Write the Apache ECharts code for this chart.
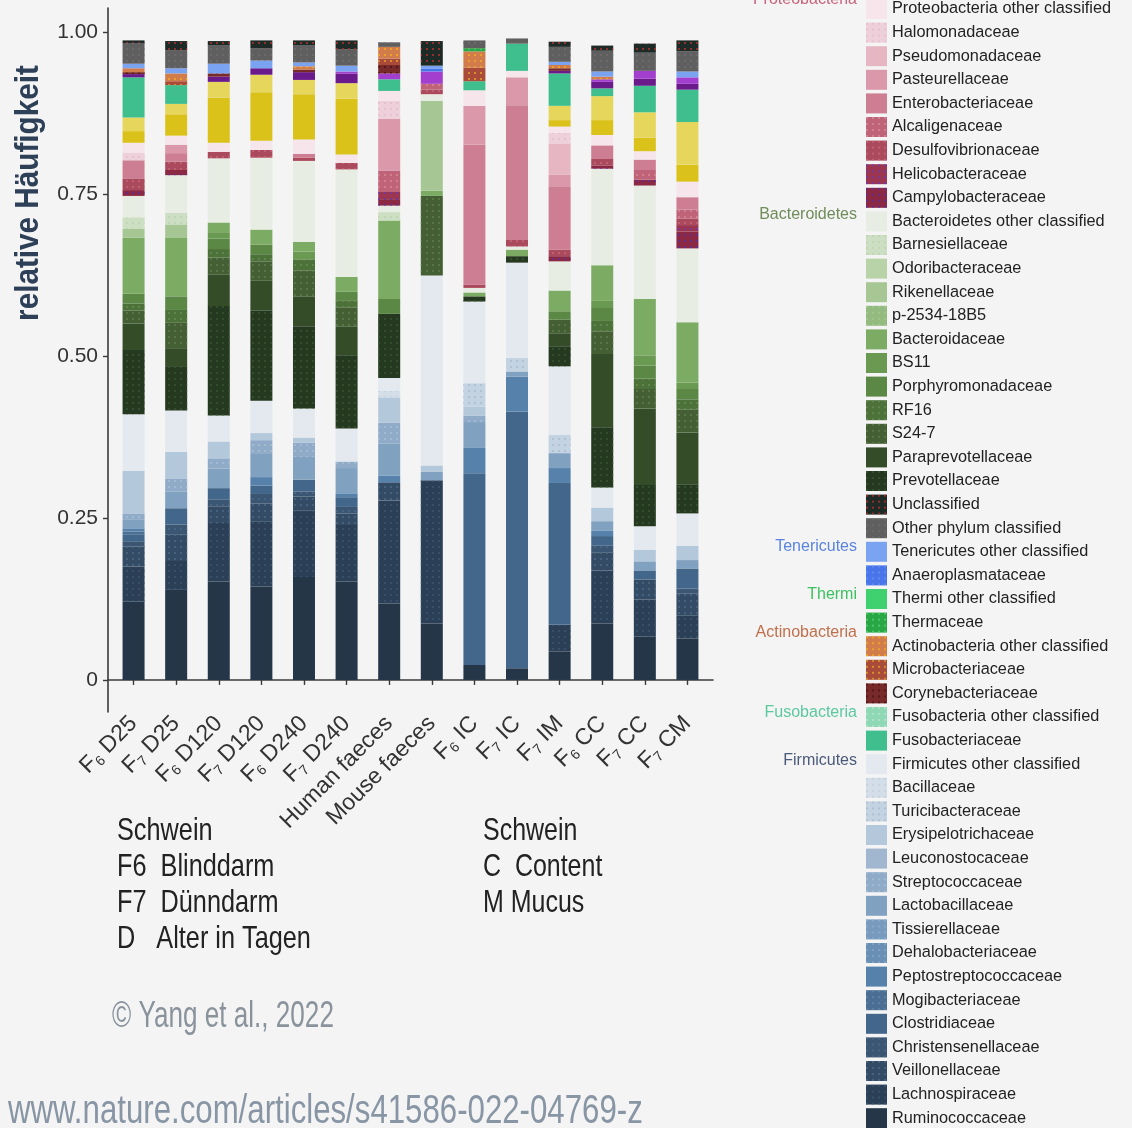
<!DOCTYPE html>
<html>
<head>
<meta charset="utf-8">
<title>Relative Häufigkeit der Bakterienfamilien</title>
<script src="https://cdn.jsdelivr.net/npm/echarts@6/dist/echarts.min.js"></script>
<style>
  html, body { margin: 0; padding: 0; background: #f4f4f4; }
  #chart { width: 1132px; height: 1128px; }
</style>
</head>
<body>
<div id="chart"></div>
<script>
// Samples (x axis), with the F index drawn as a subscript
const sampleLabels = [
  '{m|F}{s|6}{m| D25}', '{m|F}{s|7}{m| D25}', '{m|F}{s|6}{m| D120}', '{m|F}{s|7}{m| D120}',
  '{m|F}{s|6}{m| D240}', '{m|F}{s|7}{m| D240}', '{m|Human faeces}', '{m|Mouse faeces}',
  '{m|F}{s|6}{m| IC}', '{m|F}{s|7}{m| IC}', '{m|F}{s|7}{m| IM}', '{m|F}{s|6}{m| CC}',
  '{m|F}{s|7}{m| CC}', '{m|F}{s|7}{m| CM}'
];
const yTicks = [0, 0.25, 0.5, 0.75, 1];

// Relative abundance per family, one value per sample (same order as sampleLabels)
// Firmicutes
const ruminococcaceae       = [0.121, 0.139, 0.152, 0.144, 0.159, 0.152, 0.118, 0.087, 0.023, 0.018, 0.044, 0.087, 0.067, 0.064];
const lachnospiraceae       = [0.054, 0.046, 0.090, 0.100, 0.103, 0.087, 0.159, 0.221, 0, 0, 0.041, 0.082, 0.057, 0.035];
const veillonellaceae       = [0.031, 0.039, 0.026, 0.028, 0.021, 0.018, 0.028, 0, 0, 0, 0, 0.028, 0.031, 0.034];
const christensenellaceae   = [0.008, 0.016, 0.010, 0.015, 0.008, 0.010, 0, 0, 0, 0, 0, 0.010, 0, 0.008];
const clostridiaceae        = [0.010, 0.025, 0.018, 0.013, 0.018, 0.015, 0, 0, 0.296, 0.396, 0.219, 0.015, 0.014, 0.031];
const mogibacteriaceae      = [0.005, 0, 0, 0, 0, 0, 0, 0, 0, 0, 0, 0, 0, 0];
const peptostreptococcaceae = [0.005, 0, 0, 0.013, 0, 0.006, 0.010, 0, 0.039, 0.054, 0.023, 0.008, 0, 0];
const dehalobacteriaceae    = [0, 0, 0, 0, 0, 0, 0, 0, 0, 0, 0, 0, 0, 0];
const tissierellaceae       = [0, 0, 0, 0, 0, 0, 0, 0, 0, 0, 0, 0, 0, 0];
const lactobacillaceae      = [0.013, 0.026, 0.030, 0.037, 0.035, 0.039, 0.050, 0.013, 0.040, 0.008, 0.023, 0.015, 0.014, 0.013];
const streptococcaceae      = [0.010, 0.020, 0.016, 0.020, 0.022, 0.010, 0.032, 0, 0.010, 0, 0, 0, 0, 0];
const leuconostocaceae      = [0, 0, 0, 0, 0, 0, 0, 0, 0, 0, 0, 0, 0, 0];
const erysipelotrichaceae   = [0.066, 0.041, 0.026, 0.011, 0.008, 0, 0.039, 0.010, 0.014, 0, 0, 0.021, 0.018, 0.022];
const turicibacteraceae     = [0, 0, 0, 0, 0, 0, 0, 0, 0.036, 0.021, 0.028, 0, 0, 0];
const bacillaceae           = [0, 0, 0, 0, 0, 0, 0.010, 0, 0, 0, 0, 0, 0, 0];
const firmicutesOther       = [0.087, 0.064, 0.040, 0.050, 0.045, 0.051, 0.020, 0.293, 0.126, 0.147, 0.106, 0.031, 0.036, 0.050];
// Bacteroidetes
const prevotellaceae        = [0.099, 0.067, 0.169, 0.139, 0.127, 0.113, 0.099, 0, 0.008, 0.010, 0.031, 0.093, 0.064, 0.045];
const paraprevotellaceae    = [0.041, 0.029, 0.049, 0.046, 0.046, 0.044, 0, 0, 0, 0, 0.020, 0.113, 0.118, 0.080];
const s247                  = [0.020, 0.040, 0.026, 0.030, 0.040, 0.030, 0, 0.123, 0, 0, 0.021, 0.035, 0.030, 0.035];
const rf16                  = [0.011, 0.019, 0.013, 0.011, 0.017, 0.011, 0, 0, 0, 0, 0, 0.016, 0.016, 0.016];
const porphyromonadaceae    = [0.015, 0.021, 0.016, 0.015, 0, 0.013, 0.023, 0, 0, 0, 0.013, 0.020, 0.020, 0.016];
const bs11                  = [0, 0, 0.010, 0, 0.012, 0, 0, 0, 0, 0, 0, 0.011, 0.016, 0.010];
const bacteroidaceae        = [0.087, 0.090, 0.015, 0.023, 0.015, 0.023, 0.121, 0.008, 0.006, 0.010, 0.032, 0.055, 0.087, 0.093];
const p253418B5             = [0, 0, 0, 0, 0, 0, 0, 0, 0, 0, 0, 0, 0, 0];
const rikenellaceae         = [0.013, 0.021, 0, 0, 0, 0, 0, 0.139, 0, 0, 0, 0, 0, 0];
const odoribacteraceae      = [0, 0, 0, 0, 0, 0, 0, 0, 0, 0, 0, 0, 0, 0];
const barnesiellaceae       = [0.018, 0.018, 0, 0, 0, 0, 0.013, 0, 0, 0, 0, 0, 0, 0];
const bacteroidetesOther    = [0.033, 0.058, 0.099, 0.111, 0.125, 0.166, 0.010, 0.010, 0.007, 0.005, 0.045, 0.149, 0.175, 0.114];
// Proteobacteria
const campylobacteraceae    = [0.009, 0.008, 0, 0, 0, 0, 0.010, 0, 0, 0, 0.008, 0.005, 0.009, 0.026];
const helicobacteraceae     = [0, 0, 0, 0, 0, 0, 0.011, 0, 0, 0, 0, 0, 0, 0.010];
const desulfovibrionaceae   = [0.018, 0.013, 0.010, 0.012, 0.005, 0.010, 0, 0.007, 0.005, 0.010, 0.010, 0.010, 0, 0.010];
const alcaligenaceae        = [0, 0, 0, 0, 0, 0, 0.033, 0.009, 0, 0, 0, 0, 0.015, 0.014];
const enterobacteriaceae    = [0.028, 0.013, 0, 0, 0.006, 0, 0, 0, 0.216, 0.208, 0.098, 0.021, 0.016, 0.019];
const pasteurellaceae       = [0, 0.013, 0, 0, 0, 0, 0.080, 0, 0.060, 0.043, 0.018, 0, 0, 0];
const pseudomonadaceae      = [0, 0, 0, 0, 0, 0, 0, 0, 0, 0, 0.048, 0, 0, 0];
const halomonadaceae        = [0.012, 0, 0, 0, 0, 0, 0.028, 0, 0, 0, 0.016, 0, 0, 0];
const proteobacteriaOther   = [0.015, 0.014, 0.014, 0.014, 0.022, 0.013, 0.015, 0, 0.024, 0.010, 0.010, 0.016, 0.013, 0.024];
// Spirochaetes
const spirochaetaceae       = [0.018, 0.033, 0.070, 0.075, 0.070, 0.086, 0, 0, 0, 0, 0.010, 0.023, 0.021, 0.026];
const spirochaetesOther     = [0.021, 0.016, 0.024, 0.027, 0.022, 0.024, 0, 0, 0, 0, 0.022, 0.037, 0.039, 0.066];
// Fusobacteria
const fusobacteriaceae      = [0.062, 0.029, 0, 0, 0, 0, 0.018, 0, 0.014, 0.042, 0.050, 0.012, 0.041, 0.050];
const fusobacteriaOther     = [0, 0, 0, 0, 0, 0, 0, 0, 0, 0, 0, 0, 0, 0];
// Verrucomicrobia
const verrucomicrobiaceae   = [0.005, 0, 0.008, 0.010, 0.012, 0.015, 0, 0, 0, 0, 0.004, 0.010, 0.011, 0.009];
const verrucomicrobiaOther  = [0, 0, 0, 0, 0, 0.003, 0.009, 0.019, 0, 0, 0, 0.004, 0.012, 0.010];
// Actinobacteria
const corynebacteriaceae    = [0.003, 0, 0.005, 0, 0.004, 0, 0.013, 0, 0, 0, 0.004, 0, 0, 0];
const microbacteriaceae     = [0, 0.006, 0, 0, 0, 0, 0.010, 0, 0.021, 0, 0, 0, 0, 0];
const actinobacteriaOther   = [0.006, 0.012, 0, 0, 0.005, 0, 0.018, 0, 0.025, 0, 0.005, 0.004, 0, 0];
// Thermi
const thermaceae            = [0, 0, 0, 0, 0, 0, 0, 0, 0.005, 0, 0, 0, 0, 0];
const thermiOther           = [0, 0, 0, 0, 0, 0, 0, 0, 0, 0, 0, 0, 0, 0];
// Tenericutes
const anaeroplasmataceae    = [0, 0, 0, 0, 0, 0, 0, 0.004, 0, 0, 0, 0, 0, 0];
const tenericutesOther      = [0.007, 0.008, 0.015, 0.012, 0.006, 0.009, 0, 0.005, 0, 0, 0.005, 0.008, 0, 0.009];
// Remaining reads
const otherPhylum           = [0.032, 0.028, 0.028, 0.019, 0.026, 0.025, 0.007, 0, 0.012, 0.008, 0.023, 0.032, 0.028, 0.031];
const unclassified          = [0.004, 0.014, 0.007, 0.012, 0.008, 0.014, 0, 0.038, 0, 0, 0.008, 0.008, 0.014, 0.017];

// Stack order, bottom to top: [name, fill colour, values, dot colour of the texture or null]
const stackOrder = [
  ['Ruminococcaceae', '#243647', ruminococcaceae, null],
  ['Lachnospiraceae', '#2b4056', lachnospiraceae, '#3d566e'],
  ['Veillonellaceae', '#334b64', veillonellaceae, '#4f6a86'],
  ['Christensenellaceae', '#3b5672', christensenellaceae, '#4e6a88'],
  ['Clostridiaceae', '#43678a', clostridiaceae, null],
  ['Mogibacteriaceae', '#4a6f93', mogibacteriaceae, '#6486a8'],
  ['Peptostreptococcaceae', '#5581ab', peptostreptococcaceae, null],
  ['Dehalobacteriaceae', '#6a8fb5', dehalobacteriaceae, '#86a6c6'],
  ['Tissierellaceae', '#789bbd', tissierellaceae, '#90aecb'],
  ['Lactobacillaceae', '#81a1c0', lactobacillaceae, null],
  ['Streptococcaceae', '#8fabc8', streptococcaceae, '#a6bfd6'],
  ['Leuconostocaceae', '#a0b7cf', leuconostocaceae, null],
  ['Erysipelotrichaceae', '#b4c8db', erysipelotrichaceae, null],
  ['Turicibacteraceae', '#c4d3e1', turicibacteraceae, '#a9bccf'],
  ['Bacillaceae', '#d4dee8', bacillaceae, '#c2cfdc'],
  ['Firmicutes other classified', '#e3e9ee', firmicutesOther, null],
  ['Prevotellaceae', '#253920', prevotellaceae, '#3a5432'],
  ['Paraprevotellaceae', '#344c28', paraprevotellaceae, null],
  ['S24-7', '#435f33', s247, '#5e7d4c'],
  ['RF16', '#4c7139', rf16, '#688c55'],
  ['Porphyromonadaceae', '#5c8846', porphyromonadaceae, null],
  ['BS11', '#6a9a52', bs11, null],
  ['Bacteroidaceae', '#7cab63', bacteroidaceae, null],
  ['p-2534-18B5', '#93bb7f', p253418B5, '#a9c996'],
  ['Rikenellaceae', '#a6c794', rikenellaceae, null],
  ['Odoribacteraceae', '#b8d3a8', odoribacteraceae, null],
  ['Barnesiellaceae', '#cddfc2', barnesiellaceae, '#bdd3ae'],
  ['Bacteroidetes other classified', '#e8ede4', bacteroidetesOther, null],
  ['Campylobacteraceae', '#8b2843', campylobacteraceae, '#5b2f9c'],
  ['Helicobacteraceae', '#9c3650', helicobacteraceae, '#6a3cb0'],
  ['Desulfovibrionaceae', '#ac4a5d', desulfovibrionaceae, '#c56878'],
  ['Alcaligenaceae', '#bf6478', alcaligenaceae, '#d88a9a'],
  ['Enterobacteriaceae', '#ce7e93', enterobacteriaceae, null],
  ['Pasteurellaceae', '#da98aa', pasteurellaceae, null],
  ['Pseudomonadaceae', '#e6b6c3', pseudomonadaceae, null],
  ['Halomonadaceae', '#eed0da', halomonadaceae, '#e4bcc9'],
  ['Proteobacteria other classified', '#f6e6ec', proteobacteriaOther, null],
  ['Spirochaetaceae', '#dbc21b', spirochaetaceae, null],
  ['Spirochaetes other classified', '#e6d65c', spirochaetesOther, null],
  ['Fusobacteriaceae', '#3fbf8e', fusobacteriaceae, null],
  ['Fusobacteria other classified', '#8fd8b6', fusobacteriaOther, '#b6e6c8'],
  ['Verrucomicrobiaceae', '#6b1a8c', verrucomicrobiaceae, null],
  ['Verrucomicrobia other classified', '#a33fcf', verrucomicrobiaOther, null],
  ['Corynebacteriaceae', '#782a2a', corynebacteriaceae, '#4a1212'],
  ['Microbacteriaceae', '#a94b38', microbacteriaceae, '#e0a428'],
  ['Actinobacteria other classified', '#d27b4b', actinobacteriaOther, '#f0b020'],
  ['Thermaceae', '#27a845', thermaceae, '#5ccf78'],
  ['Thermi other classified', '#3fd070', thermiOther, null],
  ['Anaeroplasmataceae', '#4876ea', anaeroplasmataceae, '#6a92f0'],
  ['Tenericutes other classified', '#7aa3f2', tenericutesOther, null],
  ['Other phylum classified', '#5f5f5f', otherPhylum, '#6e6e6e'],
  ['Unclassified', '#1e2a25', unclassified, '#b83232']
];

// Legend entries, top to bottom
const legendOrder = [
  'Proteobacteria other classified', 'Halomonadaceae', 'Pseudomonadaceae', 'Pasteurellaceae',
  'Enterobacteriaceae', 'Alcaligenaceae', 'Desulfovibrionaceae', 'Helicobacteraceae',
  'Campylobacteraceae', 'Bacteroidetes other classified', 'Barnesiellaceae', 'Odoribacteraceae',
  'Rikenellaceae', 'p-2534-18B5', 'Bacteroidaceae', 'BS11', 'Porphyromonadaceae', 'RF16', 'S24-7',
  'Paraprevotellaceae', 'Prevotellaceae', 'Unclassified', 'Other phylum classified',
  'Tenericutes other classified', 'Anaeroplasmataceae', 'Thermi other classified', 'Thermaceae',
  'Actinobacteria other classified', 'Microbacteriaceae', 'Corynebacteriaceae',
  'Fusobacteria other classified', 'Fusobacteriaceae', 'Firmicutes other classified', 'Bacillaceae',
  'Turicibacteraceae', 'Erysipelotrichaceae', 'Leuconostocaceae', 'Streptococcaceae',
  'Lactobacillaceae', 'Tissierellaceae', 'Dehalobacteriaceae', 'Peptostreptococcaceae',
  'Mogibacteriaceae', 'Clostridiaceae', 'Christensenellaceae', 'Veillonellaceae',
  'Lachnospiraceae', 'Ruminococcaceae'
];

// Phylum headings beside the legend: [text, colour, y]
const phylumHeadings = [
  ['Proteobacteria', '#c8627c', 0],
  ['Bacteroidetes', '#6f8d5a', 215],
  ['Tenericutes', '#5a84e0', 547],
  ['Thermi', '#3cc060', 595],
  ['Actinobacteria', '#c0704c', 633],
  ['Fusobacteria', '#5cc9a0', 713],
  ['Firmicutes', '#4a5a7a', 761]
];

const sampleKey = ['Schwein', 'F6  Blinddarm', 'F7  Dünndarm', 'D   Alter in Tagen'];
const sectionKey = ['Schwein', 'C  Content', 'M Mucus'];

const positions = sampleLabels.map((_, i) => i + 1);
const sansFont = '"Liberation Sans", Arial, sans-serif';

// Plot frame: the visible axes run over [0.4, 14.6] sample units (half a gap of padding
// each side); the bars sit on a category axis laid over the same span.
const plotLeft = 108, plotRight = 713, plotTop = 8, plotBottom = 712;
const unit = (plotRight - plotLeft) / 14.2;
const barGridLeft = plotLeft + 0.1 * unit;
const barGridRight = 1132 - (barGridLeft + 14 * unit);
const yMin = -0.0495, yMax = 1.037;

// Fine dot texture used on some families
const dots = (color) => ({
  symbol: 'circle',
  symbolSize: 1,
  color,
  dashArrayX: [1.6, 3.4],
  dashArrayY: [1.6, 3.4],
  rotation: 0
});

const series = stackOrder.map(([name, color, values, dotColor]) => ({
  name,
  type: 'bar',
  stack: 'total',
  xAxisIndex: 1,
  yAxisIndex: 1,
  barWidth: 22,
  itemStyle: dotColor ? { color, decal: dots(dotColor) } : { color },
  emphasis: { disabled: true },
  data: values
}));

const graphic = [
  {
    type: 'text', x: 29, y: 193, rotation: Math.PI / 2, scaleX: 0.9,
    style: {
      text: 'relative Häufigkeit', fill: '#2e4058',
      font: 'bold 33px ' + sansFont, textAlign: 'center', textVerticalAlign: 'middle'
    }
  }
];
phylumHeadings.forEach(([text, color, y]) => {
  graphic.push({
    type: 'text', x: 857, y,
    style: { text, fill: color, font: '16px ' + sansFont, textAlign: 'right', textVerticalAlign: 'middle' }
  });
});
sampleKey.forEach((text, i) => {
  graphic.push({
    type: 'text', x: 117, y: 831 + i * 36, scaleX: 0.79,
    style: { text, fill: '#222', font: '32px ' + sansFont, textVerticalAlign: 'middle' }
  });
});
sectionKey.forEach((text, i) => {
  graphic.push({
    type: 'text', x: 483, y: 831 + i * 36, scaleX: 0.78,
    style: { text, fill: '#222', font: '32px ' + sansFont, textVerticalAlign: 'middle' }
  });
});
graphic.push({
  type: 'text', x: 112, y: 1017, scaleX: 0.725,
  style: { text: '© Yang et al., 2022', fill: '#8a939c', font: '36px ' + sansFont, textVerticalAlign: 'middle' }
});
graphic.push({
  type: 'text', x: 8, y: 1112, scaleX: 0.78,
  style: { text: 'www.nature.com/articles/s41586-022-04769-z', fill: '#8795a4', font: '40px ' + sansFont, textVerticalAlign: 'middle' }
});

const axisLineStyle = { color: '#3a3a3a', width: 1.6 };
const tickLineStyle = { color: '#3a3a3a', width: 1.4 };

const chart = echarts.init(document.getElementById('chart'), null, { renderer: 'canvas' });
chart.setOption({
  animation: false,
  backgroundColor: '#f4f4f4',
  grid: [
    { left: plotLeft, right: 1132 - plotRight, top: plotTop, bottom: 1128 - plotBottom },
    { left: barGridLeft, right: barGridRight, top: plotTop, bottom: 1128 - plotBottom }
  ],
  xAxis: [
    {
      type: 'value', gridIndex: 0, min: 0.4, max: 14.6,
      splitLine: { show: false },
      axisLine: { show: true, lineStyle: axisLineStyle },
      axisTick: { show: true, customValues: positions, length: 5, lineStyle: tickLineStyle },
      axisLabel: {
        customValues: positions, rotate: 45, margin: 8, color: '#333',
        formatter: (v) => sampleLabels[Math.round(v) - 1] || '',
        rich: {
          m: { fontSize: 23, fontFamily: sansFont, color: '#333', lineHeight: 26 },
          s: { fontSize: 14, fontFamily: sansFont, color: '#333', verticalAlign: 'bottom' }
        }
      }
    },
    {
      type: 'category', gridIndex: 1, data: positions,
      show: false
    }
  ],
  yAxis: [
    {
      type: 'value', gridIndex: 0, min: yMin, max: yMax,
      splitLine: { show: false },
      axisLine: { show: true, lineStyle: axisLineStyle },
      axisTick: { show: true, customValues: yTicks, length: 5, lineStyle: tickLineStyle },
      axisLabel: {
        customValues: yTicks, margin: 10, color: '#333', fontSize: 21, fontFamily: sansFont,
        formatter: (v) => (v === 0 ? '0' : v.toFixed(2))
      }
    },
    {
      type: 'value', gridIndex: 1, min: yMin, max: yMax, show: false
    }
  ],
  legend: {
    orient: 'vertical', left: 866, top: -1, height: 1200, padding: 0,
    itemWidth: 21, itemHeight: 20, itemGap: 3.6, icon: 'rect',
    selectedMode: false,
    data: legendOrder,
    textStyle: { fontSize: 16.3, fontFamily: sansFont, color: '#222' }
  },
  graphic,
  series
});
</script>
</body>
</html>
